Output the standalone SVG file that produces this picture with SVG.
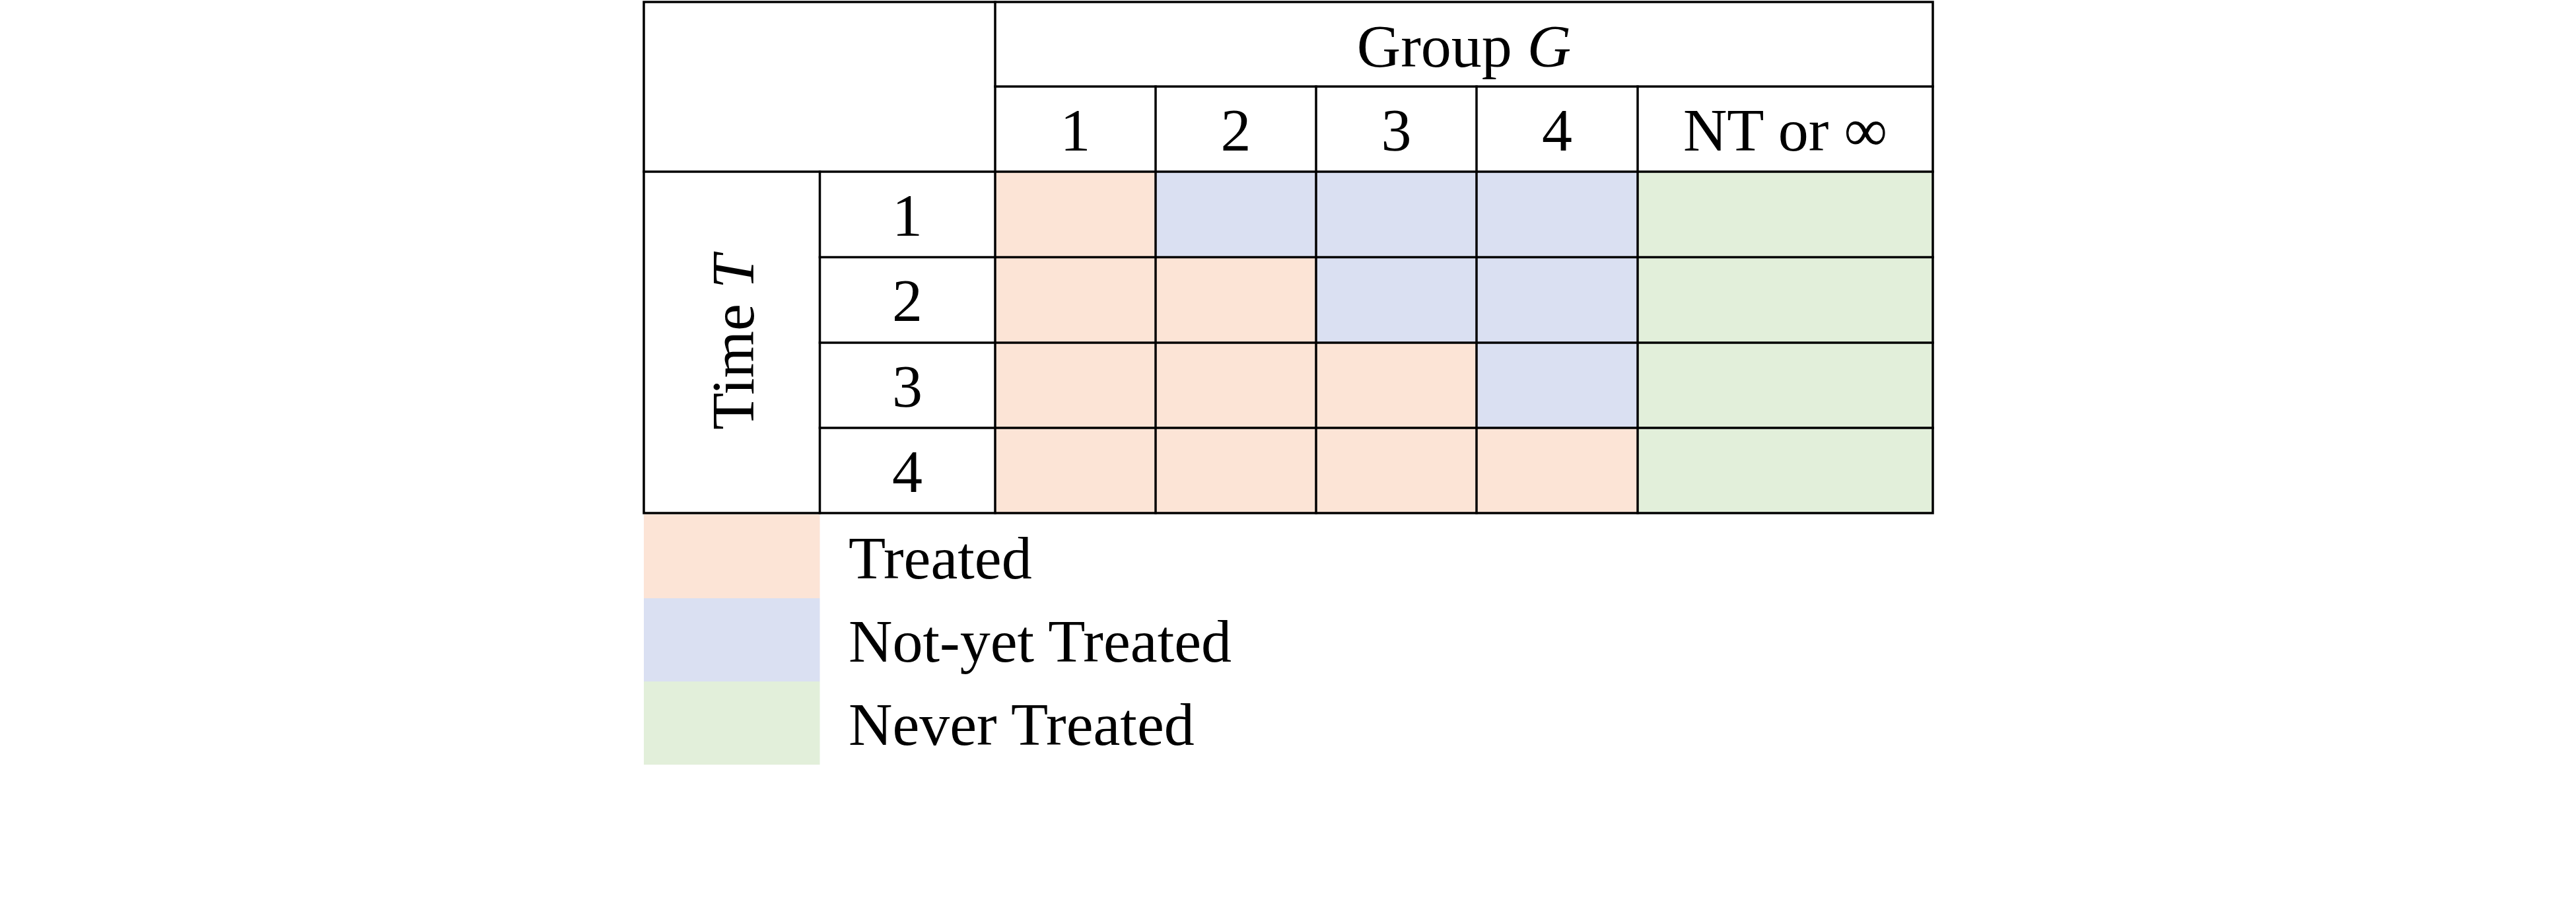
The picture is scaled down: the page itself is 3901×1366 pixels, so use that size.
<svg xmlns="http://www.w3.org/2000/svg" width="3901" height="1366" viewBox="0 0 3901 1366">
<style>
.t{font-family:"Liberation Serif","Times New Roman",serif;font-size:92px;fill:#000}
.c{text-anchor:middle}
.p{fill:#FCE4D6}
.b{fill:#DAE0F2}
.g{fill:#E2EFDA}
.ln{stroke:#000;stroke-width:3.5;fill:none;stroke-linecap:square}
</style>
<rect width="3901" height="1366" fill="#fff"/>
<g id="cells">
<rect class="p" x="1507" y="260" width="243" height="129.5"/>
<rect class="b" x="1750" y="260" width="243" height="129.5"/>
<rect class="b" x="1993" y="260" width="243" height="129.5"/>
<rect class="b" x="2236" y="260" width="244" height="129.5"/>
<rect class="g" x="2480" y="260" width="447" height="129.5"/>
<rect class="p" x="1507" y="389.5" width="243" height="129.5"/>
<rect class="p" x="1750" y="389.5" width="243" height="129.5"/>
<rect class="b" x="1993" y="389.5" width="243" height="129.5"/>
<rect class="b" x="2236" y="389.5" width="244" height="129.5"/>
<rect class="g" x="2480" y="389.5" width="447" height="129.5"/>
<rect class="p" x="1507" y="519" width="243" height="129"/>
<rect class="p" x="1750" y="519" width="243" height="129"/>
<rect class="p" x="1993" y="519" width="243" height="129"/>
<rect class="b" x="2236" y="519" width="244" height="129"/>
<rect class="g" x="2480" y="519" width="447" height="129"/>
<rect class="p" x="1507" y="648" width="243" height="129"/>
<rect class="p" x="1750" y="648" width="243" height="129"/>
<rect class="p" x="1993" y="648" width="243" height="129"/>
<rect class="p" x="2236" y="648" width="244" height="129"/>
<rect class="g" x="2480" y="648" width="447" height="129"/>
</g>
<g id="grid">
<rect class="ln" x="975" y="3" width="1952" height="774"/>
<line class="ln" x1="1507" y1="131" x2="2927" y2="131"/>
<line class="ln" x1="975" y1="260" x2="2927" y2="260"/>
<line class="ln" x1="1241.5" y1="389.5" x2="2927" y2="389.5"/>
<line class="ln" x1="1241.5" y1="519" x2="2927" y2="519"/>
<line class="ln" x1="1241.5" y1="648" x2="2927" y2="648"/>
<line class="ln" x1="1241.5" y1="260" x2="1241.5" y2="777"/>
<line class="ln" x1="1507" y1="3" x2="1507" y2="777"/>
<line class="ln" x1="1750" y1="131" x2="1750" y2="777"/>
<line class="ln" x1="1993" y1="131" x2="1993" y2="777"/>
<line class="ln" x1="2236" y1="131" x2="2236" y2="777"/>
<line class="ln" x1="2480" y1="131" x2="2480" y2="777"/>
</g>
<g id="header-group">
<text class="t c" x="2217" y="101">Group <tspan font-style="italic">G</tspan></text>
</g>
<g id="header-cols">
<text class="t c" x="1628.5" y="228">1</text>
<text class="t c" x="1871.5" y="228">2</text>
<text class="t c" x="2114.5" y="228">3</text>
<text class="t c" x="2358" y="228">4</text>
<text class="t c" x="2703.5" y="228">NT or ∞</text>
</g>
<g id="time-label">
<text class="t c" transform="translate(1141,518.5) rotate(-90)" x="0" y="0">Time <tspan font-style="italic">T</tspan></text>
</g>
<g id="row-labels">
<text class="t c" x="1374" y="357">1</text>
<text class="t c" x="1374" y="486">2</text>
<text class="t c" x="1374" y="615.5">3</text>
<text class="t c" x="1374" y="744.5">4</text>
</g>
<g id="legend-treated">
<rect class="p" x="975" y="779" width="266.5" height="127"/>
<text class="t" x="1285" y="876">Treated</text>
</g>
<g id="legend-notyet">
<rect class="b" x="975" y="906" width="266.5" height="126"/>
<text class="t" x="1285" y="1002">Not-yet Treated</text>
</g>
<g id="legend-never">
<rect class="g" x="975" y="1032" width="266.5" height="126"/>
<text class="t" x="1285" y="1128">Never Treated</text>
</g>
</svg>
